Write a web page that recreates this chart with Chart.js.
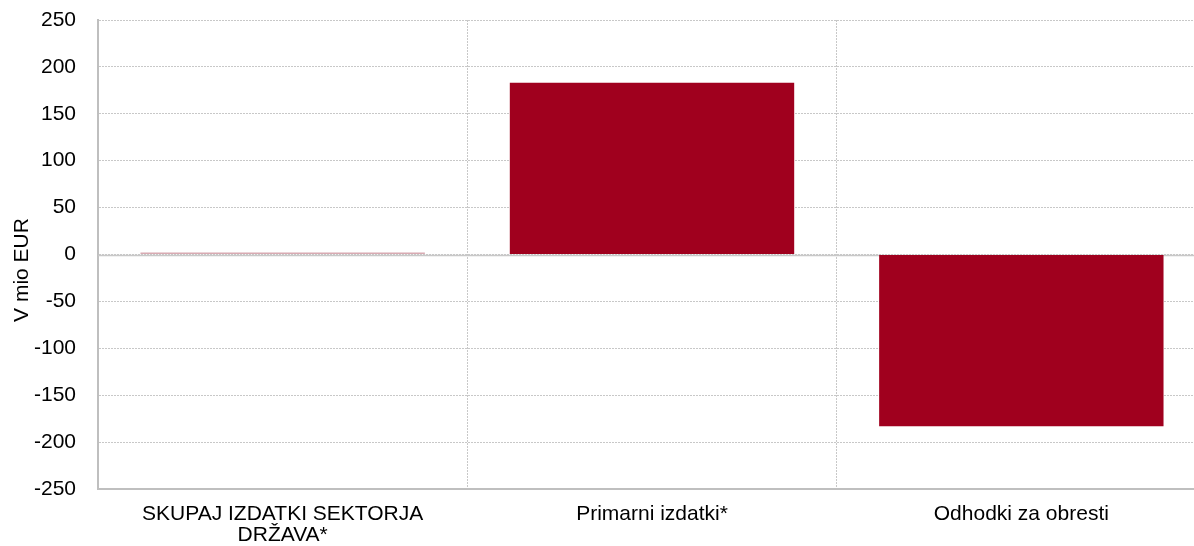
<!DOCTYPE html>
<html>
<head>
<meta charset="utf-8">
<script src="https://cdn.jsdelivr.net/npm/chart.js@4/dist/chart.umd.min.js"></script>
<style>
  html, body { margin: 0; padding: 0; background: #fff; overflow: hidden; }
  /* risalna površina sega nekoliko čez desni rob okna */
  #wrap { width: 1206px; height: 546px; }
</style>
</head>
<body>
<div id="wrap"><canvas id="izdatki"></canvas></div>
<script>
// --- podatki ---
const categories = [["SKUPAJ IZDATKI SEKTORJA", "DRŽAVA*"], "Primarni izdatki*", "Odhodki za obresti"];
const values = [2, 183, -183];
const barColors = ["#d8aab2", "#a0001e", "#a0001e"];
const yTicks = [-250, -200, -150, -100, -50, 0, 50, 100, 150, 200, 250];
const yTitle = "V mio EUR";

const FONT = "'Liberation Sans', Arial, sans-serif";
const FONT_SIZE = 21;
const GRID = "#c8c8c8";

// polna ničelna črta čez pikčasto mrežo
const zeroLine = {
    id: "zeroLine",
    beforeDatasetsDraw(chart) {
        const { ctx, chartArea, scales } = chart;
        const y = Math.round(scales.y.getPixelForValue(0)) + 0.5;
        ctx.save();
        ctx.strokeStyle = GRID;
        ctx.lineWidth = 1.5;
        ctx.beginPath();
        ctx.moveTo(chartArea.left, y);
        ctx.lineTo(chartArea.right, y);
        ctx.stroke();
        ctx.restore();
    },
};

// naslov osi y, centriran na višino platna
const yAxisTitle = {
    id: "yAxisTitle",
    afterDraw(chart) {
        const { ctx } = chart;
        ctx.save();
        ctx.translate(22, chart.height / 2 - 3);
        ctx.rotate(-Math.PI / 2);
        ctx.font = `${FONT_SIZE}px ${FONT}`;
        ctx.fillStyle = "#000";
        ctx.textAlign = "center";
        ctx.textBaseline = "middle";
        ctx.fillText(yTitle, 0, 0);
        ctx.restore();
    },
};

new Chart(document.getElementById("izdatki"), {
    type: "bar",
    data: {
        labels: categories,
        datasets: [
            {
                data: values,
                backgroundColor: barColors,
                borderWidth: 0,
                barPercentage: 0.77,
                categoryPercentage: 1,
            },
        ],
    },
    options: {
        responsive: true,
        maintainAspectRatio: false,
        animation: false,
        layout: { padding: { top: 20, right: 0, left: 0, bottom: 0 } },
        plugins: {
            legend: { display: false },
            tooltip: { enabled: false },
        },
        scales: {
            x: {
                grid: {
                    offset: true,
                    drawTicks: false,
                    color: (c) => (c.index === 0 || c.index === categories.length ? "rgba(0,0,0,0)" : GRID),
                },
                border: { color: "#bfbfbf", width: 2, dash: [2, 1] },
                ticks: {
                    color: "#000",
                    padding: 15,
                    maxRotation: 0,
                    font: { family: FONT, size: FONT_SIZE, lineHeight: 1.0 },
                },
                afterFit: (s) => {
                    s.height = 57;
                    s.paddingTop = 0;
                    s.paddingLeft = 0;
                    s.paddingRight = 0;
                },
            },
            y: {
                min: -250,
                max: 250,
                afterBuildTicks: (s) => { s.ticks = yTicks.map((v) => ({ value: v })); },
                grid: { color: GRID, drawTicks: false },
                border: { color: "#bfbfbf", width: 2, dash: [2, 1] },
                ticks: {
                    color: "#000",
                    padding: 22,
                    font: { family: FONT, size: FONT_SIZE },
                },
                afterFit: (s) => {
                    s.width = 98;
                    s.paddingTop = 0;
                    s.paddingBottom = 0;
                },
            },
        },
    },
    plugins: [zeroLine, yAxisTitle],
});
</script>
</body>
</html>
